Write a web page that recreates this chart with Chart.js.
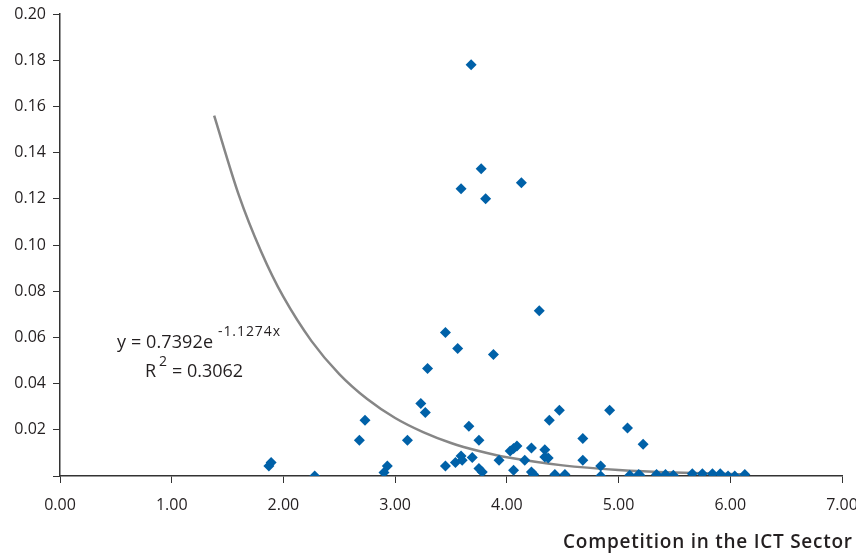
<!DOCTYPE html>
<html>
<head>
<meta charset="utf-8">
<script src="https://cdn.jsdelivr.net/npm/chart.js@4/dist/chart.umd.min.js"></script>
<style>
  html, body { margin: 0; padding: 0; background: #fff; }
  #wrap { width: 856px; height: 557px; }
</style>
</head>
<body>
<div id="wrap"><canvas id="chart" width="856" height="557"></canvas></div>
<script>
// Punkte (x = Wettbewerb, y = Wert)
const competition = [
  1.87, 1.89, 2.28, 2.68, 2.73, 2.90, 2.93, 3.11, 3.23, 3.27, 3.29,
  3.45, 3.56, 3.88, 4.29, 3.66, 3.75, 3.45, 3.54, 3.59, 3.60, 3.69,
  3.75, 3.78, 3.93, 4.03, 4.06, 4.09, 4.06, 4.16, 4.22, 4.22, 4.24,
  4.34, 4.34, 4.37, 4.38, 4.47, 4.43, 4.52, 4.68, 4.68, 4.84, 4.84,
  4.92, 5.08, 5.22, 5.10, 5.18, 5.19, 5.34, 5.42, 5.49, 5.66, 5.75,
  5.84, 5.91, 5.98, 6.04, 6.13,
  3.68, 3.77, 3.59, 3.81, 4.13
];
const values = [
  0.0043, 0.0058, 0.0000, 0.0155, 0.0241, 0.0015, 0.0043, 0.0155, 0.0314, 0.0275, 0.0465,
  0.0621, 0.0552, 0.0526, 0.0715, 0.0215, 0.0155, 0.0043, 0.0058, 0.0087, 0.0068, 0.0080,
  0.0032, 0.0017, 0.0068, 0.0108, 0.0119, 0.0130, 0.0025, 0.0068, 0.0121, 0.0017, 0.0007,
  0.0114, 0.0082, 0.0078, 0.0241, 0.0285, 0.0007, 0.0007, 0.0162, 0.0068, 0.0043, 0.0000,
  0.0285, 0.0208, 0.0137, 0.0003, 0.0007, 0.0003, 0.0006, 0.0006, 0.0003, 0.0010, 0.0010,
  0.0010, 0.0010, 0.0000, 0.0000, 0.0007,
  0.1780, 0.1330, 0.1244, 0.1200, 0.1270
];

// Trendlinie (Stützpunkte)
const trendX = [1.38, 1.6, 1.8, 2.0, 2.25, 2.5, 2.75, 3.0, 3.25, 3.5, 3.75, 4.0, 4.5, 5.0, 5.5, 6.15];
const trendY = [0.156, 0.1217, 0.0972, 0.0775, 0.0585, 0.0441, 0.0333, 0.0251, 0.0190, 0.0143, 0.0108, 0.0081, 0.0046, 0.0026, 0.0015, 0.0007];

const xTicks = [0, 1, 2, 3, 4, 5, 6, 7];
const yTicks = [0, 0.02, 0.04, 0.06, 0.08, 0.10, 0.12, 0.14, 0.16, 0.18, 0.20];

const FONT = '"Open Sans", "DejaVu Sans", sans-serif';
const TEXT = '#231f20';

// Text mit fester Breite zeichnen (Buchstabenabstand anpassen)
function fitText(c, txt, x, y, width) {
  c.letterSpacing = '0px';
  const w = c.measureText(txt).width;
  c.letterSpacing = ((width - w) / (txt.length - 1)) + 'px';
  c.fillText(txt, x, y);
  c.letterSpacing = '0px';
}

const labelsPlugin = {
  id: 'labels',
  afterDraw(chart) {
    const c = chart.ctx;
    c.save();
    c.fillStyle = TEXT;
    c.textBaseline = 'alphabetic';
    c.textAlign = 'left';
    // Gleichung
    c.font = '18px ' + FONT;
    fitText(c, 'y = 0.7392e', 117, 348, 96);
    c.font = '14px ' + FONT;
    fitText(c, '-1.1274x', 218, 336, 62);
    c.font = '18px ' + FONT;
    c.fillText('R', 145, 377);
    c.font = '14px ' + FONT;
    c.fillText('2', 159, 366);
    c.font = '18px ' + FONT;
    fitText(c, '= 0.3062', 172, 377, 71);
    // Achsentitel
    c.font = '600 19px ' + FONT;
    fitText(c, 'Competition in the ICT Sector', 563, 548, 289);
    c.restore();
  }
};

new Chart(document.getElementById('chart'), {
  type: 'scatter',
  data: {
    datasets: [
      {
        label: 'Trend',
        type: 'line',
        data: trendX.map((x, i) => ({ x: x, y: trendY[i] })),
        borderColor: '#868686',
        borderWidth: 2.5,
        pointRadius: 0,
        tension: 0.3,
        fill: false,
        order: 2
      },
      {
        label: 'Data',
        data: competition.map((x, i) => ({ x: x, y: values[i] })),
        pointStyle: 'rectRot',
        pointRadius: 5.5,
        backgroundColor: '#0061a8',
        borderColor: '#0061a8',
        borderWidth: 0,
        order: 1
      }
    ]
  },
  options: {
    responsive: false,
    animation: false,
    layout: { padding: { top: 14, right: 14, left: 0, bottom: 0 } },
    plugins: {
      legend: { display: false },
      tooltip: { enabled: false }
    },
    scales: {
      x: {
        type: 'linear',
        min: 0,
        max: 7,
        afterBuildTicks: s => { s.ticks = xTicks.map(v => ({ value: v })); },
        afterFit: s => { s.height = 81; s.paddingLeft = 0; s.paddingRight = 0; },
        grid: { drawOnChartArea: false, tickLength: 7, color: '#333', tickColor: '#333' },
        border: { color: '#333', width: 1.5 },
        ticks: {
          color: TEXT,
          font: { family: FONT, size: 16 },
          padding: 13,
          maxRotation: 0,
          callback: v => v.toFixed(2)
        }
      },
      y: {
        min: 0,
        max: 0.2,
        afterBuildTicks: s => { s.ticks = yTicks.map(v => ({ value: v })); },
        afterFit: s => { s.width = 60; s.paddingTop = 0; s.paddingBottom = 0; },
        grid: { drawOnChartArea: false, tickLength: 7, color: '#333', tickColor: '#333' },
        border: { color: '#333', width: 1.5 },
        ticks: {
          color: TEXT,
          font: { family: FONT, size: 16 },
          padding: 7,
          callback: v => v === 0 ? '' : v.toFixed(2)
        }
      }
    }
  },
  plugins: [labelsPlugin]
});
</script>
</body>
</html>
